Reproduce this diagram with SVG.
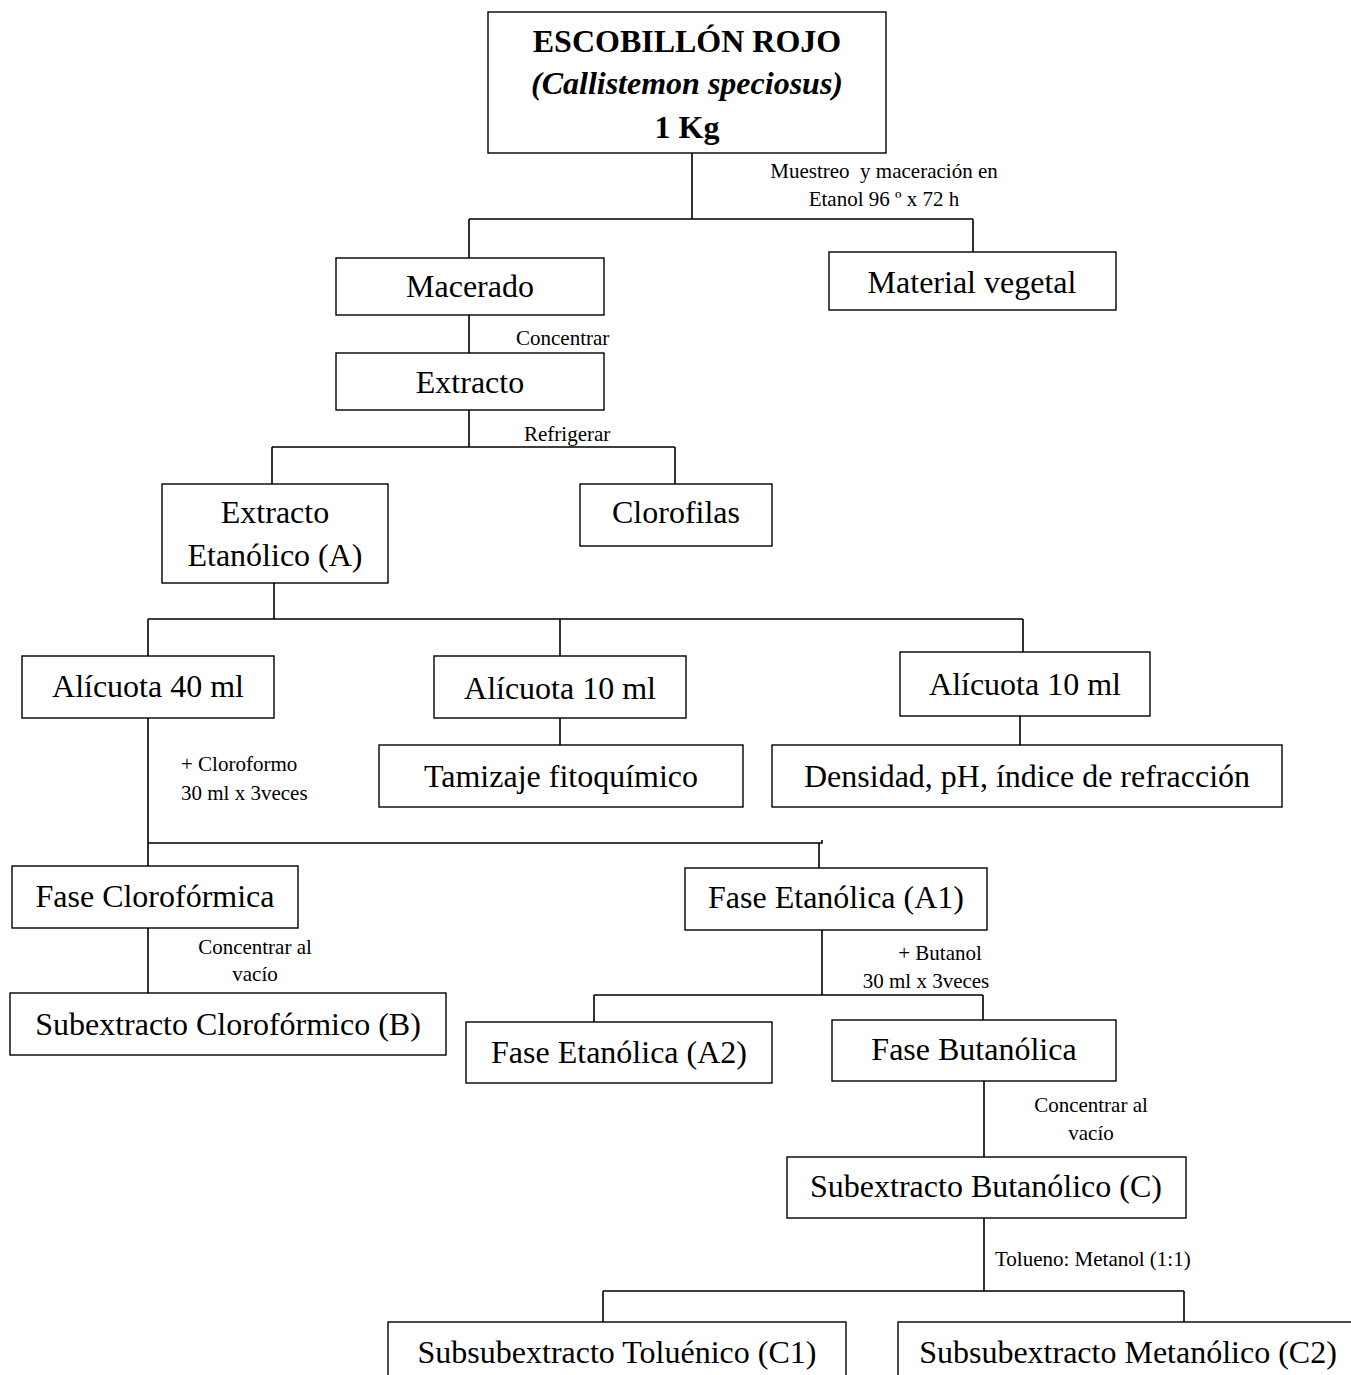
<svg xmlns="http://www.w3.org/2000/svg" width="1351" height="1375" viewBox="0 0 1351 1375">
<style>
.box{fill:#fff;stroke:#000;stroke-width:1.4}
.t{font-family:"Liberation Serif","Times New Roman",serif;font-size:32px;fill:#000;text-anchor:middle}
.l{font-family:"Liberation Serif","Times New Roman",serif;font-size:21px;fill:#000}
.c{text-anchor:middle}
.ln{fill:none;stroke:#000;stroke-width:1.6}
</style>
<rect width="1351" height="1375" fill="#fff"/>
<g id="connectors">
<path class="ln" d="M692 153V219M469 219H973M469 219V258M973 219V252"/>
<path class="ln" d="M469 315V353M469 410V447M272 447H675M272 447V484M675 447V484"/>
<path class="ln" d="M274 583V619M148 619H1023M148 619V656M560 619V656M1023 619V652"/>
<path class="ln" d="M560 718V745M1020 716V745"/>
<path class="ln" d="M148 718V866M148 843H822V840M819 843V868"/>
<path class="ln" d="M148 928V993"/>
<path class="ln" d="M822 930V995M594 995H983M594 995V1022M983 995V1020"/>
<path class="ln" d="M984 1081V1157M984 1218V1291M603 1291H1184M603 1291V1322M1184 1291V1322"/>
</g>
<g id="labels">
<text class="l c" x="884" y="178" xml:space="preserve">Muestreo  y maceración en</text>
<text class="l c" x="884" y="206">Etanol 96 º x 72 h</text>
<text class="l" x="516" y="345">Concentrar</text>
<text class="l" x="524" y="441">Refrigerar</text>
<text class="l" x="181" y="771">+ Cloroformo</text>
<text class="l" x="181" y="800">30 ml x 3veces</text>
<text class="l c" x="255" y="954">Concentrar al</text>
<text class="l c" x="255" y="981">vacío</text>
<text class="l c" x="940" y="960">+ Butanol</text>
<text class="l c" x="926" y="988">30 ml x 3veces</text>
<text class="l c" x="1091" y="1112">Concentrar al</text>
<text class="l c" x="1091" y="1140">vacío</text>
<text class="l" x="995" y="1266">Tolueno: Metanol (1:1)</text>
</g>
<g id="n-escobillon">
<rect class="box" x="488" y="12" width="398" height="141"/>
<text class="t" x="687" y="52" font-weight="bold">ESCOBILLÓN ROJO</text>
<text class="t" x="687" y="94" font-weight="bold" font-style="italic">(Callistemon speciosus)</text>
<text class="t" x="687" y="138" font-weight="bold">1 Kg</text>
</g>
<g id="n-macerado"><rect class="box" x="336" y="258" width="268" height="57"/><text class="t" x="470" y="297">Macerado</text></g>
<g id="n-material"><rect class="box" x="829" y="252" width="287" height="58"/><text class="t" x="972" y="293">Material vegetal</text></g>
<g id="n-extracto"><rect class="box" x="336" y="353" width="268" height="57"/><text class="t" x="470" y="393">Extracto</text></g>
<g id="n-extracto-etanolico"><rect class="box" x="162" y="484" width="226" height="99"/><text class="t" x="275" y="523">Extracto</text><text class="t" x="275" y="566">Etanólico (A)</text></g>
<g id="n-clorofilas"><rect class="box" x="580" y="484" width="192" height="62"/><text class="t" x="676" y="523">Clorofilas</text></g>
<g id="n-alicuota40"><rect class="box" x="22" y="656" width="252" height="62"/><text class="t" x="148" y="697">Alícuota 40 ml</text></g>
<g id="n-alicuota10a"><rect class="box" x="434" y="656" width="252" height="62"/><text class="t" x="560" y="699">Alícuota 10 ml</text></g>
<g id="n-alicuota10b"><rect class="box" x="900" y="652" width="250" height="64"/><text class="t" x="1025" y="695">Alícuota 10 ml</text></g>
<g id="n-tamizaje"><rect class="box" x="379" y="745" width="364" height="62"/><text class="t" x="561" y="787">Tamizaje fitoquímico</text></g>
<g id="n-densidad"><rect class="box" x="772" y="745" width="510" height="62"/><text class="t" x="1027" y="787">Densidad, pH, índice de refracción</text></g>
<g id="n-fase-cloroformica"><rect class="box" x="12" y="866" width="286" height="62"/><text class="t" x="155" y="907">Fase Clorofórmica</text></g>
<g id="n-fase-etanolica-a1"><rect class="box" x="685" y="868" width="302" height="62"/><text class="t" x="836" y="908">Fase Etanólica (A1)</text></g>
<g id="n-subextracto-b"><rect class="box" x="10" y="993" width="436" height="62"/><text class="t" x="228" y="1035">Subextracto Clorofórmico (B)</text></g>
<g id="n-fase-etanolica-a2"><rect class="box" x="466" y="1022" width="306" height="61"/><text class="t" x="619" y="1063">Fase Etanólica (A2)</text></g>
<g id="n-fase-butanolica"><rect class="box" x="832" y="1020" width="284" height="61"/><text class="t" x="974" y="1060">Fase Butanólica</text></g>
<g id="n-subextracto-c"><rect class="box" x="787" y="1157" width="399" height="61"/><text class="t" x="986" y="1197">Subextracto Butanólico (C)</text></g>
<g id="n-c1"><rect class="box" x="388" y="1322" width="458" height="70"/><text class="t" x="617" y="1363">Subsubextracto Toluénico (C1)</text></g>
<g id="n-c2"><rect class="box" x="898" y="1322" width="470" height="70"/><text class="t" x="1128" y="1363">Subsubextracto Metanólico (C2)</text></g>
</svg>
